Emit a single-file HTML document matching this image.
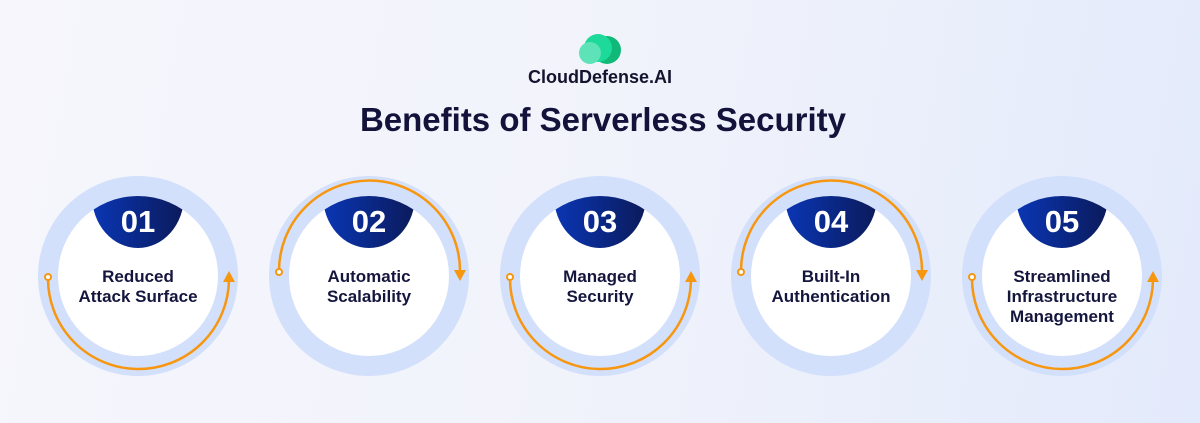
<!DOCTYPE html>
<html><head><meta charset="utf-8"><style>
html,body{margin:0;padding:0;width:1200px;height:423px;overflow:hidden}
body{background:linear-gradient(100deg,#f6f6fc 0%,#f1f3fb 50%,#e3eafb 100%);font-family:"Liberation Sans",sans-serif}
</style></head><body>
<svg width="1200" height="423" viewBox="0 0 1200 423" xmlns="http://www.w3.org/2000/svg">
<defs>
<linearGradient id="cap" x1="0" x2="1" y1="0" y2="0"><stop offset="0" stop-color="#0a36b5"/><stop offset="1" stop-color="#0b1a5a"/></linearGradient>
<clipPath id="c1"><circle cx="138" cy="276" r="80"/></clipPath>
<clipPath id="c2"><circle cx="369" cy="276" r="80"/></clipPath>
<clipPath id="c3"><circle cx="600" cy="276" r="80"/></clipPath>
<clipPath id="c4"><circle cx="831" cy="276" r="80"/></clipPath>
<clipPath id="c5"><circle cx="1062" cy="276" r="80"/></clipPath>
</defs>
<!-- logo -->
<circle cx="607" cy="50" r="14" fill="#10b978"/>
<circle cx="598" cy="48" r="14" fill="#1dd99a"/>
<circle cx="590" cy="53" r="11" fill="#5de3b7"/>
<text x="600" y="83" text-anchor="middle" font-size="18" font-weight="bold" fill="#14142e">CloudDefense.AI</text>
<text x="603" y="131" text-anchor="middle" font-size="33" font-weight="bold" fill="#12123a">Benefits of Serverless Security</text>

<g id="items" font-weight="bold">
<!-- 1 -->
<circle cx="138" cy="276" r="100" fill="#d3e0fb"/>
<circle cx="138" cy="276" r="80" fill="#fff"/>
<ellipse cx="138" cy="196" rx="46" ry="52" fill="url(#cap)" clip-path="url(#c1)"/>
<text x="138" y="232" text-anchor="middle" font-size="31" fill="#fff">01</text>
<path d="M48 277 A90 90 0 0 0 229 280" fill="none" stroke="#f7960f" stroke-width="2.5"/>
<circle cx="48" cy="277" r="3" fill="#fff" stroke="#f7960f" stroke-width="2"/>
<path d="M223 282 L229 271 L235 282 Z" fill="#f7960f"/>
<text x="138" y="282" text-anchor="middle" font-size="17" fill="#15163e">Reduced</text>
<text x="138" y="302" text-anchor="middle" font-size="17" fill="#15163e">Attack Surface</text>
<!-- 2 -->
<circle cx="369" cy="276" r="100" fill="#d3e0fb"/>
<circle cx="369" cy="276" r="80" fill="#fff"/>
<ellipse cx="369" cy="196" rx="46" ry="52" fill="url(#cap)" clip-path="url(#c2)"/>
<text x="369" y="232" text-anchor="middle" font-size="31" fill="#fff">02</text>
<path d="M279 272 A90 90 0 0 1 460 270" fill="none" stroke="#f7960f" stroke-width="2.5"/>
<circle cx="279" cy="272" r="3" fill="#fff" stroke="#f7960f" stroke-width="2"/>
<path d="M454 270 L460 281 L466 270 Z" fill="#f7960f"/>
<text x="369" y="282" text-anchor="middle" font-size="17" fill="#15163e">Automatic</text>
<text x="369" y="302" text-anchor="middle" font-size="17" fill="#15163e">Scalability</text>
<!-- 3 -->
<circle cx="600" cy="276" r="100" fill="#d3e0fb"/>
<circle cx="600" cy="276" r="80" fill="#fff"/>
<ellipse cx="600" cy="196" rx="46" ry="52" fill="url(#cap)" clip-path="url(#c3)"/>
<text x="600" y="232" text-anchor="middle" font-size="31" fill="#fff">03</text>
<path d="M510 277 A90 90 0 0 0 691 280" fill="none" stroke="#f7960f" stroke-width="2.5"/>
<circle cx="510" cy="277" r="3" fill="#fff" stroke="#f7960f" stroke-width="2"/>
<path d="M685 282 L691 271 L697 282 Z" fill="#f7960f"/>
<text x="600" y="282" text-anchor="middle" font-size="17" fill="#15163e">Managed</text>
<text x="600" y="302" text-anchor="middle" font-size="17" fill="#15163e">Security</text>
<!-- 4 -->
<circle cx="831" cy="276" r="100" fill="#d3e0fb"/>
<circle cx="831" cy="276" r="80" fill="#fff"/>
<ellipse cx="831" cy="196" rx="46" ry="52" fill="url(#cap)" clip-path="url(#c4)"/>
<text x="831" y="232" text-anchor="middle" font-size="31" fill="#fff">04</text>
<path d="M741 272 A90 90 0 0 1 922 270" fill="none" stroke="#f7960f" stroke-width="2.5"/>
<circle cx="741" cy="272" r="3" fill="#fff" stroke="#f7960f" stroke-width="2"/>
<path d="M916 270 L922 281 L928 270 Z" fill="#f7960f"/>
<text x="831" y="282" text-anchor="middle" font-size="17" fill="#15163e">Built-In</text>
<text x="831" y="302" text-anchor="middle" font-size="17" fill="#15163e">Authentication</text>
<!-- 5 -->
<circle cx="1062" cy="276" r="100" fill="#d3e0fb"/>
<circle cx="1062" cy="276" r="80" fill="#fff"/>
<ellipse cx="1062" cy="196" rx="46" ry="52" fill="url(#cap)" clip-path="url(#c5)"/>
<text x="1062" y="232" text-anchor="middle" font-size="31" fill="#fff">05</text>
<path d="M972 277 A90 90 0 0 0 1153 280" fill="none" stroke="#f7960f" stroke-width="2.5"/>
<circle cx="972" cy="277" r="3" fill="#fff" stroke="#f7960f" stroke-width="2"/>
<path d="M1147 282 L1153 271 L1159 282 Z" fill="#f7960f"/>
<text x="1062" y="282" text-anchor="middle" font-size="17" fill="#15163e">Streamlined</text>
<text x="1062" y="302" text-anchor="middle" font-size="17" fill="#15163e">Infrastructure</text>
<text x="1062" y="322" text-anchor="middle" font-size="17" fill="#15163e">Management</text>
</g>
</svg>
</body></html>
